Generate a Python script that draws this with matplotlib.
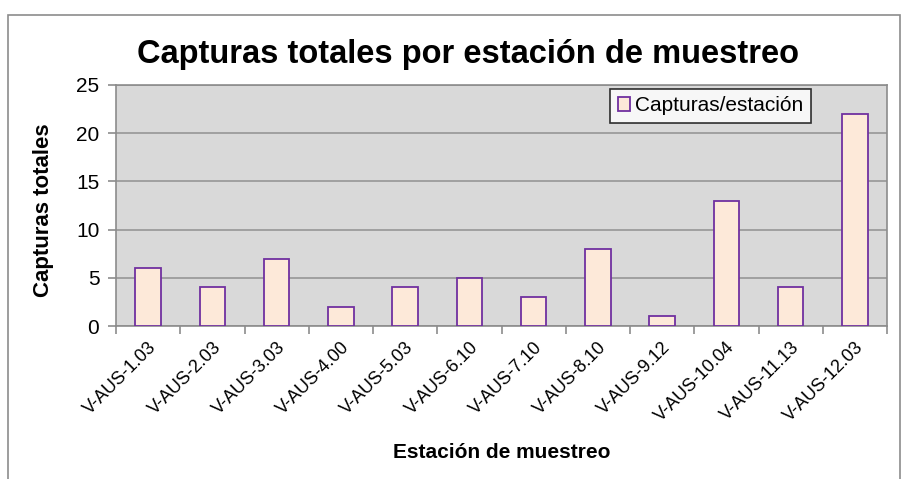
import matplotlib
matplotlib.use("Agg")
import matplotlib.pyplot as plt
import numpy as np
from matplotlib.patches import Rectangle

stations = ["V-AUS-1.03", "V-AUS-2.03", "V-AUS-3.03", "V-AUS-4.00", "V-AUS-5.03",
            "V-AUS-6.10", "V-AUS-7.10", "V-AUS-8.10", "V-AUS-9.12", "V-AUS-10.04",
            "V-AUS-11.13", "V-AUS-12.03"]
captures = [6, 4, 7, 2, 4, 5, 3, 8, 1, 13, 4, 22]
yticks = [0, 5, 10, 15, 20, 25]

plt.rcParams['font.family'] = ['Liberation Sans', 'DejaVu Sans']

W, H = 901, 479
fig = plt.figure(figsize=(W/100, H/100), dpi=100)
fig.patches.append(Rectangle((8/W, -0.1), (900-8)/W, (H-15)/H + 0.1, transform=fig.transFigure,
                             fill=False, edgecolor='#8c8c8c', linewidth=1.2))

L, R, T, B = 116, 887, 85, 326
ax = fig.add_axes([L/W, 1-B/H, (R-L)/W, (B-T)/H])
ax.set_facecolor('#d9d9d9')
x = np.arange(len(stations))
ax.bar(x, captures, width=0.4, color='#fde9d9', edgecolor='#7030a0', linewidth=1.3,
       label='Capturas/estación', zorder=3)
ax.set_xlim(-0.5, len(stations)-0.5)
ax.set_ylim(0, 25)
ax.set_yticks(yticks)
ax.set_yticklabels([str(v) for v in yticks], fontsize=15)
ax.yaxis.grid(True, color='#969696', linewidth=1.2, zorder=0)
ax.set_axisbelow(True)
ax.set_xticks(np.arange(-0.5, len(stations), 1.0), minor=False)
ax.set_xticklabels([])
ax.set_xticks(x, minor=True)
ax.set_xticklabels(stations, minor=True, rotation=45, ha='right', va='top',
                   rotation_mode='anchor', fontsize=13)
ax.tick_params(axis='x', which='minor', length=0, pad=9)
ax.tick_params(axis='x', which='major', length=6, color='#8c8c8c', width=1.2)
ax.tick_params(axis='y', length=6, color='#8c8c8c', width=1.2, pad=6)
for s in ax.spines.values():
    s.set_color('#8c8c8c')
    s.set_linewidth(1.2)

fig.text(44/W, 1-210/H, 'Capturas totales', ha='center', va='center', rotation=90,
         fontsize=16, fontweight='bold')
fig.text(502/W, 1-452/H, 'Estación de muestreo', ha='center', va='center',
         fontsize=15, fontweight='bold')
fig.text(468/W, 1-55/H, 'Capturas totales por estación de muestreo', ha='center', va='center',
         fontsize=23.5, fontweight='bold')

leg = ax.legend(loc='upper right', bbox_to_anchor=((811-L)/(R-L), 1 - (89-T)/(B-T)),
                fontsize=15, frameon=True, fancybox=False, handlelength=0.6, handleheight=0.6,
                handletextpad=0.25, borderpad=0.35, borderaxespad=0)
leg.get_frame().set_edgecolor('black')
leg.get_frame().set_linewidth(1.2)
leg.get_frame().set_facecolor('white')

fig.savefig('out.png', dpi=100)
